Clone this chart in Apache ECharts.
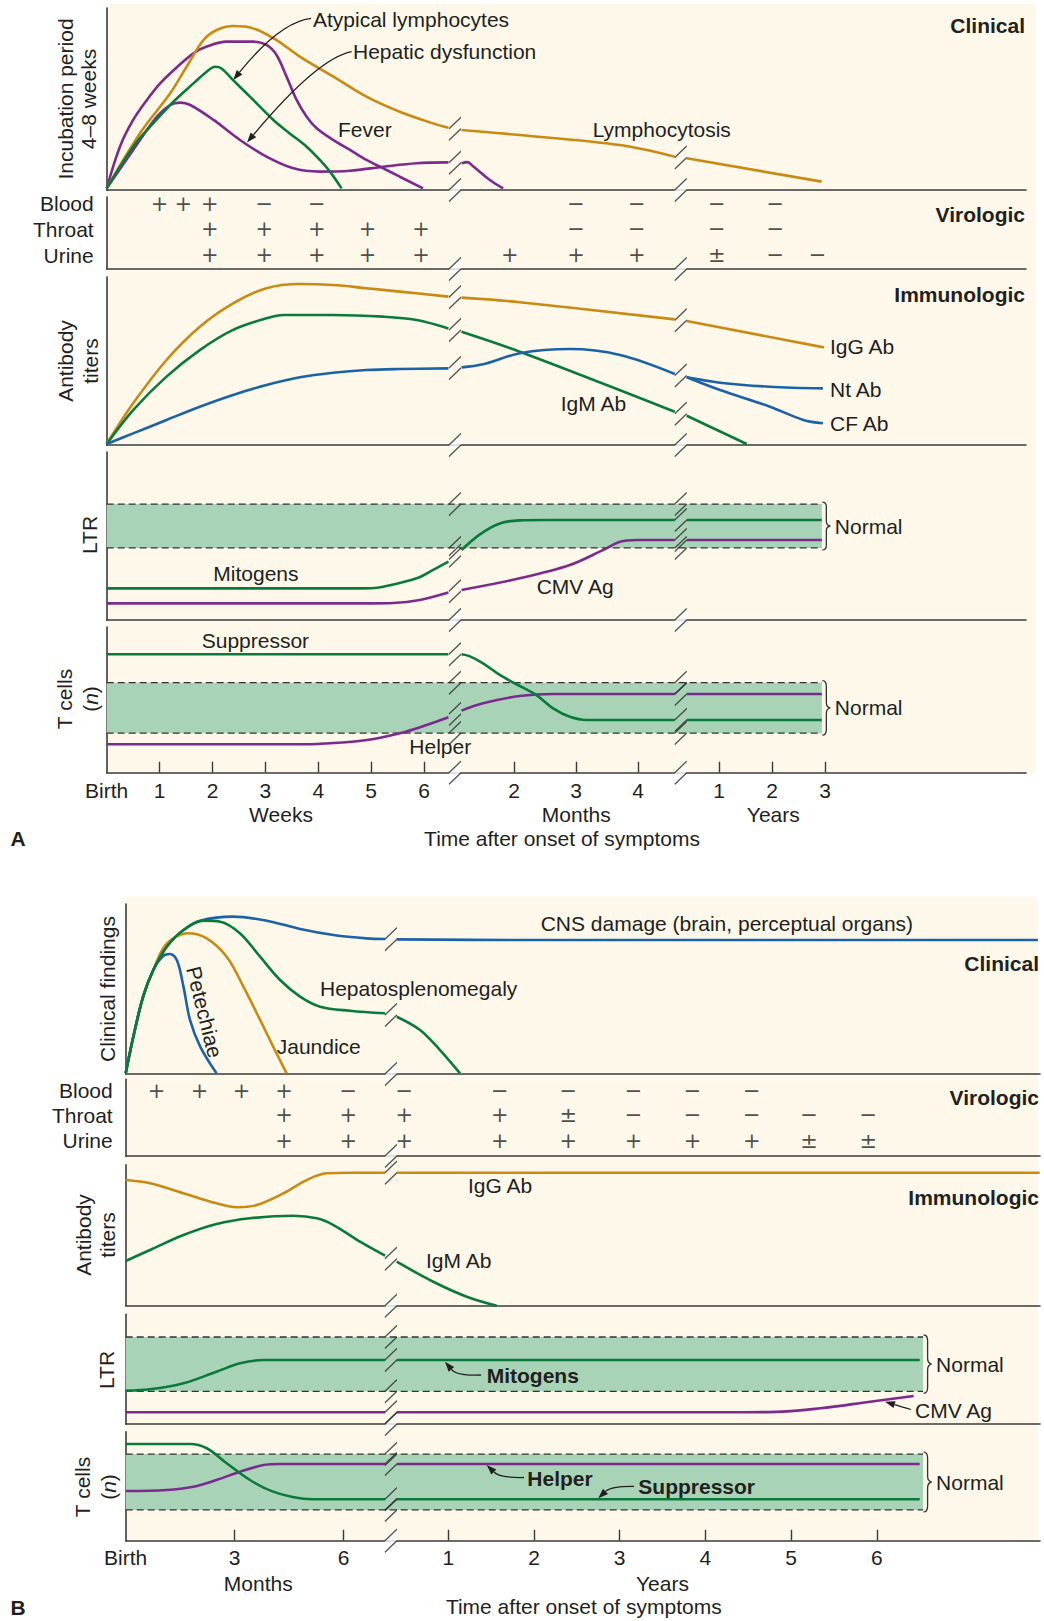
<!DOCTYPE html>
<html><head><meta charset="utf-8">
<script src="https://cdn.jsdelivr.net/npm/echarts@6/dist/echarts.min.js"></script>
<style>html,body{margin:0;padding:0;background:#fff}#c{width:1044px;height:1621px}</style>
</head><body><div id="c"></div>
<script>
// ================= DATA =================
// Curves: list of segments [segment, [[time, level], ...]]
// segments: 'w' = weeks, 'm' = months, 'y' = years ; level = 0..100 within panel
// ---- Panel A ----
const aLymphocytosis = [
  ['w', [[0,0.9],[0.63,31.2],[1.2,53.1],[1.51,67.7],[1.83,82.4],[2.08,87.9],[2.39,90.1],[2.77,88.8],[3.21,82.4],[3.65,73.3],[4.28,62.4],[4.91,51.3],[5.54,43.0],[6.17,36.6],[6.46,34.2]]],
  ['m', [[1.153,33.0],[2.094,30.2],[3.706,24.7],[4.593,18.3]]],
  ['y', [[0.391,17.4],[2.938,4.6]]]
];
const aFever = [
  ['w', [[0,0.9],[0.25,23.8],[0.5,38.5],[0.76,49.5],[1.01,58.6],[1.34,67.8],[1.64,75.1],[1.89,78.8],[2.27,81.5],[2.77,81.5],[3.02,79.7],[3.21,74.2],[3.4,62.3],[3.59,49.5],[3.78,40.3],[3.97,33.9],[4.28,27.5],[4.6,22.0],[4.91,16.5],[5.23,11.9],[5.54,7.3],[5.98,0.9]]]
];
const aAtypical = [
  ['w', [[0,0.9],[0.5,23.8],[0.82,34.8],[1.26,48.5],[1.64,58.6],[1.89,65.0],[2.05,67.7],[2.17,66.8],[2.39,60.4],[2.77,49.5],[3.15,38.5],[3.46,31.1],[3.78,23.8],[4.03,16.5],[4.22,10.1],[4.44,0.9]]]
];
const aHepatic = [
  ['w', [[0,0.9],[0.5,22.0],[0.95,40.3],[1.2,46.7],[1.39,48.0],[1.58,46.7],[2.02,38.5],[2.52,27.5],[3.02,18.3],[3.53,11.9],[4.03,10.1],[4.6,10.6],[5.23,12.8],[5.86,14.7],[6.46,15.2]]],
  ['m', [[1.153,14.7],[1.25,15.3],[1.34,13.0],[1.61,5.5],[1.824,0.9]]]
];
const aBlood  = [['w', [[1,'+'],[1.45,'+'],[1.95,'+'],[2.98,'−'],[3.97,'−']]], ['m', [[3.0,'−'],[3.98,'−']]], ['y', [[0.96,'−'],[2.06,'−']]]];
const aThroat = [['w', [[1.95,'+'],[2.98,'+'],[3.97,'+'],[4.93,'+'],[5.94,'+']]], ['m', [[3.0,'−'],[3.98,'−']]], ['y', [[0.96,'−'],[2.06,'−']]]];
const aUrine  = [['w', [[1.95,'+'],[2.98,'+'],[3.97,'+'],[4.93,'+'],[5.94,'+']]], ['m', [[1.93,'+'],[3.0,'+'],[3.98,'+']]], ['y', [[0.96,'±'],[2.06,'−'],[2.86,'−']]]];
const aIgG = [
  ['w', [[0,0.6],[0.5,24.8],[1.13,50.6],[1.76,70.4],[2.39,84.3],[3.02,93.3],[3.65,95.8],[4.28,95.2],[4.91,93.3],[5.54,91.3],[6.46,88.3]]],
  ['m', [[1.153,87.7],[2.094,85.0],[4.593,74.8]]],
  ['y', [[0.391,73.8],[2.98,58.1]]]
];
const aIgM = [
  ['w', [[0,0.6],[0.5,20.8],[1.13,40.7],[1.76,56.5],[2.39,68.5],[3.02,75.4],[3.34,77.4],[4.28,77.4],[5.23,76.4],[5.86,74.4],[6.46,69.4]]],
  ['m', [[1.153,67.4],[2.094,55.5],[4.593,19.8]]],
  ['y', [[0.391,17.4],[1.523,0.6]]]
];
const aNtAb = [
  ['w', [[0,0.6],[0.5,6.9],[1.13,14.9],[1.76,22.8],[2.39,29.8],[3.02,35.7],[3.65,40.3],[4.28,43.0],[4.91,44.6],[5.54,45.2],[6.46,45.6]]],
  ['m', [[1.153,46.2],[1.5,48.0],[2.094,54.6],[2.9,57.1],[3.71,53.6],[4.593,42.3]]],
  ['y', [[0.391,40.3],[1.02,37.1],[1.96,34.7],[2.96,33.7]]]
];
const aCfAb = [['y', [[0.391,40.3],[1.02,32.7],[1.96,22.8],[2.59,14.9],[2.96,12.9]]]];
const aMitogens = [
  ['w', [[0,18.8],[4.6,18.8],[5.0,18.9],[5.23,19.8],[5.86,24.8],[6.17,29.8],[6.46,34.7]]],
  ['m', [[1.153,41.7],[1.45,51.0],[1.77,57.5],[2.09,59.3],[2.5,59.5],[4.593,59.5]]],
  ['y', [[0.391,59.5],[2.94,59.5]]]
];
const aCmvAg = [
  ['w', [[0,9.9],[5.0,9.9],[5.42,10.1],[5.92,11.9],[6.46,16.3]]],
  ['m', [[1.153,17.9],[2.094,24.8],[2.9,32.7],[3.44,41.7],[3.71,46.6],[3.98,47.6],[4.593,47.6]]],
  ['y', [[0.391,47.6],[2.94,47.6]]]
];
const aSuppressor = [
  ['w', [[0,81.3],[6.46,81.3]]],
  ['m', [[1.153,81.3],[1.28,80.0],[1.5,75.1],[1.77,67.1],[2.01,61.4],[2.36,53.3],[2.63,44.2],[2.9,38.4],[3.17,36.2],[4.593,36.2]]],
  ['y', [[0.391,36.2],[2.94,36.2]]]
];
const aHelper = [
  ['w', [[0,19.5],[3.5,19.5],[3.97,19.7],[4.92,22.4],[5.54,27.0],[6.05,32.7],[6.46,38.0]]],
  ['m', [[1.153,42.6],[1.5,47.6],[2.09,52.6],[2.63,54.0],[4.593,54.0]]],
  ['y', [[0.391,54.0],[2.94,54.0]]]
];
const aBandSpan = [['w',0],['y',2.94]];
const aLtrNormal = [42.9, 69.0];
const aTNormal = [27.2, 61.8];
const aTicks = [['w',0,'Birth'],['w',1,'1'],['w',2,'2'],['w',3,'3'],['w',4,'4'],['w',5,'5'],['w',6,'6'],['m',2,'2'],['m',3,'3'],['m',4,'4'],['y',1,'1'],['y',2,'2'],['y',3,'3']];

// ---- Panel B ----
const bCns = [
  ['m', [[0,0.4],[0.21,21.9],[0.48,45.5],[0.76,61.2],[1.13,74.9],[1.59,84.7],[2.05,90.2],[2.96,92.6],[3.88,90.2],[4.8,85.3],[5.72,81.8],[6.63,79.8],[7.14,79.4]]],
  ['y', [[0.398,79.2],[1.83,78.8],[7.88,78.8]]]
];
const bHepato = [
  ['m', [[0,0.4],[0.21,21.9],[0.48,45.5],[0.76,61.2],[1.13,74.9],[1.59,84.7],[2.14,90.2],[2.6,89.6],[3.15,82.7],[3.7,69.0],[4.25,55.3],[4.8,45.5],[5.35,39.6],[6.17,37.2],[7.14,35.7]]],
  ['y', [[0.398,33.7],[0.67,25.9],[0.903,14.1],[1.137,0.4]]]
];
const bJaundice = [
  ['m', [[0,0.4],[0.21,21.9],[0.48,45.5],[0.76,61.2],[1.03,73.9],[1.31,79.8],[1.72,82.8],[2.23,79.8],[2.78,69.0],[3.24,51.4],[3.7,31.8],[4.06,16.1],[4.43,0.4]]]
];
const bPetechiae = [
  ['m', [[0,0.4],[0.21,21.9],[0.48,45.5],[0.76,61.2],[1.03,69.4],[1.22,70.6],[1.41,66.9],[1.59,51.4],[1.77,31.8],[2.05,16.1],[2.5,0.4]]]
];
const bBlood  = [['m', [[0.85,'+'],[2.03,'+'],[3.19,'+'],[4.36,'+'],[6.13,'−']]], ['y', [[0.487,'−'],[1.6,'−'],[2.4,'−'],[3.16,'−'],[3.85,'−'],[4.54,'−']]]];
const bThroat = [['m', [[4.36,'+'],[6.13,'+']]], ['y', [[0.487,'+'],[1.6,'+'],[2.4,'±'],[3.16,'−'],[3.85,'−'],[4.54,'−'],[5.21,'−'],[5.9,'−']]]];
const bUrine  = [['m', [[4.36,'+'],[6.13,'+']]], ['y', [[0.487,'+'],[1.6,'+'],[2.4,'+'],[3.16,'+'],[3.85,'+'],[4.54,'+'],[5.21,'±'],[5.9,'±']]]];
const bIgG = [
  ['m', [[0,89.1],[0.67,86.8],[1.59,79.7],[2.5,72.6],[3.06,69.8],[3.61,71.4],[4.34,79.7],[4.98,89.1],[5.53,93.9],[6.2,94.3],[7.14,94.3]]],
  ['y', [[0.398,94.3],[7.9,94.3]]]
];
const bIgM = [
  ['m', [[0,31.7],[0.67,39.5],[1.59,50.1],[2.5,57.9],[3.42,62.0],[4.61,63.8],[5.26,62.0],[5.72,57.2],[6.45,45.4],[7.14,35.5]]],
  ['y', [[0.398,31.2],[0.825,17.0],[1.215,6.4],[1.565,0]]]
];
const bMitogens = [
  ['m', [[0,30.4],[0.67,31.6],[1.59,37.1],[2.5,47.7],[3.15,55.3],[3.79,58.3],[4.5,58.3],[7.14,58.3]]],
  ['y', [[0.398,58.3],[6.5,58.3]]]
];
const bCmvAg = [
  ['m', [[0,10.7],[7.14,10.7]]],
  ['y', [[0.398,10.7],[4.2,10.7],[4.72,10.8],[5.34,14.3],[5.92,20.3],[6.43,25.5]]]
];
const bSuppressor = [
  ['m', [[0,88.7],[1.77,88.7],[2.23,84.8],[2.78,71.0],[3.42,55.7],[4.06,45.0],[4.8,38.9],[5.3,38.0],[7.14,38.0]]],
  ['y', [[0.398,38.0],[6.5,38.0]]]
];
const bHelper = [
  ['m', [[0,45.6],[1.13,46.5],[1.86,49.5],[2.5,55.7],[3.15,63.3],[3.79,69.4],[4.25,70.4],[7.14,70.4]]],
  ['y', [[0.398,70.4],[6.5,70.4]]]
];
const bBandSpan = [['m',0],['y',6.54]];
const bLtrNormal = [29.8, 79.3];
const bTNormal = [28.2, 79.5];
const bTicks = [['m',0,'Birth'],['m',3,'3'],['m',6,'6'],['y',1,'1'],['y',2,'2'],['y',3,'3'],['y',4,'4'],['y',5,'5'],['y',6,'6']];

const rowsA = [['Blood',90.3],['Throat',55.1],['Urine',19.4]];
const rowsB = [['Blood',85.1],['Throat',53.1],['Urine',19.6]];

// ================= STYLE / LAYOUT =================
const FONT = '"Liberation Sans", Arial, Helvetica, sans-serif';
const MARKFONT = '"DejaVu Sans", "Liberation Sans", sans-serif';
const INK = '#231f20', AX = '#3b3b3b', CREAM = '#fdf8ea', BAND = '#a9d3b6';
const GOLD = '#c98a14', PURPLE = '#7b2b8e', GREEN = '#0a7a3c', BLUE = '#1c62a6';

// compound time scales (axis units) for each chart
const SC = {
  A: {w: t => t, m: t => 7.70 + (t - 2) * 1.172, y: t => 11.575 + (t - 1) * 1.002},
  B: {m: t => t, y: t => 8.88 + (t - 1) * 2.359}
};
const GEO = {A: {left: 106.7, width: 919.3, unit: 52.9}, B: {left: 125.7, width: 914.3, unit: 36.33}};
const BREAKS = {
  A: [(SC.A.w(6.46) + SC.A.m(1.153)) / 2, (SC.A.m(4.593) + SC.A.y(0.391)) / 2],
  B: [(SC.B.m(7.14) + SC.B.y(0.398)) / 2]
};

const panels = [
  {ch:'A', top:8, h:182, curves:[[aFever,PURPLE],[aHepatic,PURPLE],[aLymphocytosis,GOLD],[aAtypical,GREEN]]},
  {ch:'A', top:197, h:72, rows:rowsA, marks:[aBlood,aThroat,aUrine]},
  {ch:'A', top:277, h:168, curves:[[aIgG,GOLD],[aIgM,GREEN],[aNtAb,BLUE],[aCfAb,BLUE]]},
  {ch:'A', top:452, h:168, band:[aBandSpan,aLtrNormal], curves:[[aCmvAg,PURPLE],[aMitogens,GREEN]]},
  {ch:'A', top:627, h:145.7, band:[aBandSpan,aTNormal], curves:[[aHelper,PURPLE],[aSuppressor,GREEN]], ticks:aTicks},
  {ch:'B', top:904, h:170, curves:[[bCns,BLUE],[bJaundice,GOLD],[bPetechiae,BLUE],[bHepato,GREEN]]},
  {ch:'B', top:1079.3, h:76.7, rows:rowsB, marks:[bBlood,bThroat,bUrine]},
  {ch:'B', top:1164.7, h:141, curves:[[bIgG,GOLD],[bIgM,GREEN]]},
  {ch:'B', top:1314.3, h:109.7, band:[bBandSpan,bLtrNormal], curves:[[bCmvAg,PURPLE],[bMitogens,GREEN]]},
  {ch:'B', top:1431.7, h:109, band:[bBandSpan,bTNormal], curves:[[bHelper,PURPLE],[bSuppressor,GREEN]], ticks:bTicks}
];

const SLASH = 'path://M0,23L12,11.5M0,11.5L12,0';
const GAP = 'path://M0,11.5L12,0L12,11.5L0,23Z';
const BRACE = 'M0,0C3,0 4,1.5 4,5L4,20C4,23 5,24.5 8,25C5,25.5 4,27 4,30L4,45C4,48.5 3,50 0,50';
const key = v => Number(v).toFixed(3);

const grids = [], xAxes = [], yAxes = [], series = [];
panels.forEach((p, gi) => {
  const sc = SC[p.ch], geo = GEO[p.ch];
  grids.push({left: geo.left, top: p.top, width: geo.width, height: p.h, show: false});
  const xa = {gridIndex: gi, type: 'value', min: 0, max: geo.width / geo.unit,
    axisLine: {show: true, onZero: false, lineStyle: {color: AX, width: 1.6}},
    axisTick: {show: false}, axisLabel: {show: false}, splitLine: {show: false}};
  if (p.ticks) {
    const lab = {};
    p.ticks.forEach(([s, t, l]) => lab[key(sc[s](t))] = l);
    xa.axisTick = {show: true, inside: true, length: 11, lineStyle: {color: AX, width: 1.4},
      customValues: p.ticks.filter(d => d[2] !== 'Birth').map(([s, t]) => sc[s](t))};
    xa.axisLabel = {show: true, customValues: p.ticks.map(([s, t]) => sc[s](t)),
      formatter: v => lab[key(v)] || '', margin: p.ch === 'A' ? 7 : 6.5,
      fontSize: 21, fontFamily: FONT, color: INK};
  }
  xAxes.push(xa);
  const ya = {gridIndex: gi, type: 'value', min: 0, max: 100,
    axisLine: {show: true, onZero: false, lineStyle: {color: AX, width: 1.6}},
    axisTick: {show: false}, axisLabel: {show: false}, splitLine: {show: false}};
  if (p.rows) {
    const lab = {};
    p.rows.forEach(([n, v]) => lab[key(v)] = n);
    ya.axisLabel = {show: true, customValues: p.rows.map(r => r[1]), formatter: v => lab[key(v)] || '',
      margin: 13, fontSize: 21, lineHeight: 22, fontFamily: FONT, color: INK};
  }
  yAxes.push(ya);

  const slashPts = [], gapPts = [];
  BREAKS[p.ch].forEach(bx => { slashPts.push([bx, 0]); gapPts.push([bx, 0]); });

  // normal band
  if (p.band) {
    const [span, [lo, hi]] = p.band;
    const x0 = sc[span[0][0]](span[0][1]), x1 = sc[span[1][0]](span[1][1]);
    series.push({type: 'custom', xAxisIndex: gi, yAxisIndex: gi, z: 1, silent: true, animation: false,
      data: [[x0, x1, lo, hi]], encode: {x: [0, 1], y: [2, 3]},
      renderItem: (params, api) => {
        const a = api.coord([api.value(0), api.value(3)]), b = api.coord([api.value(1), api.value(2)]);
        const dash = {stroke: '#333', lineWidth: 1.3, lineDash: [7, 4]};
        return {type: 'group', children: [
          {type: 'rect', shape: {x: a[0], y: a[1], width: b[0] - a[0], height: b[1] - a[1]}, style: {fill: BAND}},
          {type: 'line', shape: {x1: a[0], y1: a[1], x2: b[0], y2: a[1]}, style: dash},
          {type: 'line', shape: {x1: a[0], y1: b[1], x2: b[0], y2: b[1]}, style: dash},
          {type: 'path', shape: {pathData: BRACE, x: b[0] + 0.5, y: a[1] - 2, width: 8, height: b[1] - a[1] + 4, layout: 'cover'},
            style: {fill: 'none', stroke: '#333', lineWidth: 1.3}},
          {type: 'text', x: b[0] + 13, y: (a[1] + b[1]) / 2, style: {text: 'Normal', fontSize: 21, fontFamily: FONT, fill: INK, align: 'left', verticalAlign: 'middle'}}
        ]};
      }});
    BREAKS[p.ch].forEach(bx => { if (bx > x0 && bx < x1) { slashPts.push([bx, lo]); slashPts.push([bx, hi]); } });
  }

  // curves
  (p.curves || []).forEach(([curve, color]) => {
    const segs = curve.map(([s, pts]) => pts.map(([t, v]) => [sc[s](t), v]));
    segs.forEach(seg => series.push({type: 'line', xAxisIndex: gi, yAxisIndex: gi, data: seg, smooth: 0.35,
      symbol: 'none', showSymbol: false, silent: true, animation: false, z: 3,
      lineStyle: {color, width: 2.6, cap: 'butt'}}));
    for (let k = 1; k < segs.length; k++) {
      const a = segs[k - 1][segs[k - 1].length - 1], b = segs[k][0];
      slashPts.push([(a[0] + b[0]) / 2, (a[1] + b[1]) / 2]);
    }
  });

  // virologic +/- marks
  (p.marks || []).forEach((row, ri) => {
    const yv = p.rows[ri][1];
    const data = [];
    row.forEach(([s, pts]) => pts.forEach(([t, ch]) => data.push({value: [sc[s](t), yv], name: ch})));
    series.push({type: 'scatter', xAxisIndex: gi, yAxisIndex: gi, data, symbolSize: 1, silent: true, animation: false,
      itemStyle: {color: 'transparent'}, z: 4,
      label: {show: true, position: 'inside', formatter: '{b}', fontSize: 21, lineHeight: 20, fontFamily: MARKFONT, color: INK}});
  });

  series.push({type: 'scatter', xAxisIndex: gi, yAxisIndex: gi, data: gapPts, symbol: GAP, symbolSize: [12, 23],
    itemStyle: {color: '#ffffff'}, z: 5, silent: true, animation: false, clip: false});
  series.push({type: 'scatter', xAxisIndex: gi, yAxisIndex: gi, data: slashPts, symbol: SLASH, symbolSize: [12, 23],
    itemStyle: {color: 'transparent', borderColor: '#2b2b2b', borderWidth: 1.2}, z: 6, silent: true, animation: false, clip: false});
});

// ================= ANNOTATIONS =================
function T(x, y, text, o = {}) {
  const st = {text, fontSize: o.size || 21, fontFamily: FONT, fontWeight: o.bold ? 'bold' : 'normal', fill: INK,
    align: o.align || 'left', verticalAlign: 'middle'};
  if (o.lh) st.lineHeight = o.lh;
  if (o.rich) st.rich = o.rich;
  return {type: 'text', x, y, rotation: o.rot || 0, z: 10, silent: true, style: st};
}
function arrow(x1, y1, cx, cy, x2, y2) {
  const ang = Math.atan2(y2 - cy, x2 - cx), L = 10, W = 3.6;
  const bx = x2 - L * Math.cos(ang), by = y2 - L * Math.sin(ang);
  const nx = -Math.sin(ang), ny = Math.cos(ang);
  return [
    {type: 'bezierCurve', z: 10, silent: true, shape: {x1, y1, x2: bx, y2: by, cpx1: cx, cpy1: cy},
      style: {stroke: INK, lineWidth: 1.3, fill: 'none'}},
    {type: 'polygon', z: 10, silent: true, shape: {points: [[x2, y2], [bx + nx * W, by + ny * W], [bx - nx * W, by - ny * W]]},
      style: {fill: INK}}
  ];
}
const V = Math.PI / 2;
const italicN = {i: {fontStyle: 'italic', fontSize: 21, fontFamily: FONT, fill: INK, lineHeight: 26}};
const graphics = [
  {type: 'rect', z: -10, silent: true, shape: {x: 106.7, y: 4, width: 929.3, height: 768.7}, style: {fill: CREAM}},
  {type: 'rect', z: -10, silent: true, shape: {x: 125.7, y: 896.7, width: 912.3, height: 644}, style: {fill: CREAM}},
  // ---- A ----
  T(313, 19, 'Atypical lymphocytes'),
  T(353, 51.7, 'Hepatic dysfunction'),
  T(338, 129, 'Fever'),
  T(592.7, 129, 'Lymphocytosis'),
  T(1025, 25, 'Clinical', {bold: true, align: 'right'}),
  T(1025, 214, 'Virologic', {bold: true, align: 'right'}),
  T(1025, 294, 'Immunologic', {bold: true, align: 'right'}),
  T(830, 346.7, 'IgG Ab'),
  T(830, 389, 'Nt Ab'),
  T(830, 423.3, 'CF Ab'),
  T(560.7, 403.3, 'IgM Ab'),
  T(213.3, 573.3, 'Mitogens'),
  T(536.7, 586.7, 'CMV Ag'),
  T(201.7, 640.7, 'Suppressor'),
  T(409.3, 746.7, 'Helper'),
  T(281, 814, 'Weeks', {align: 'center'}),
  T(576.3, 814, 'Months', {align: 'center'}),
  T(773.3, 814, 'Years', {align: 'center'}),
  T(562, 838, 'Time after onset of symptoms', {align: 'center'}),
  T(18, 838, 'A', {bold: true, align: 'center'}),
  T(76.5, 99, 'Incubation period\n4–8 weeks', {align: 'center', rot: V, lh: 23}),
  T(77.5, 361, 'Antibody\ntiters', {align: 'center', rot: V, lh: 25}),
  T(89, 535, 'LTR', {align: 'center', rot: V}),
  T(77.5, 699, 'T cells\n({i|n})', {align: 'center', rot: V, lh: 26, rich: italicN}),
  ...arrow(311, 18.3, 280, 22, 233.3, 80),
  ...arrow(351.7, 51.7, 318, 58, 247, 142.5),
  // ---- B ----
  T(540.7, 923.3, 'CNS damage (brain, perceptual organs)'),
  T(1039, 963.3, 'Clinical', {bold: true, align: 'right'}),
  T(320, 988.3, 'Hepatosplenomegaly'),
  T(276.7, 1046.7, 'Jaundice'),
  T(204.5, 1012, 'Petechiae', {align: 'center', rot: -76 * Math.PI / 180}),
  T(1039, 1097.3, 'Virologic', {bold: true, align: 'right'}),
  T(468, 1185, 'IgG Ab'),
  T(1039, 1197.3, 'Immunologic', {bold: true, align: 'right'}),
  T(426, 1260.7, 'IgM Ab'),
  T(486.7, 1375, 'Mitogens', {bold: true}),
  T(915, 1410, 'CMV Ag'),
  T(527.3, 1478.3, 'Helper', {bold: true}),
  T(638.3, 1486.7, 'Suppressor', {bold: true}),
  T(258.3, 1583.3, 'Months', {align: 'center'}),
  T(662.5, 1583.3, 'Years', {align: 'center'}),
  T(583.8, 1606.7, 'Time after onset of symptoms', {align: 'center'}),
  T(18, 1607, 'B', {bold: true, align: 'center'}),
  T(107.3, 989, 'Clinical findings', {align: 'center', rot: V}),
  T(95.3, 1235, 'Antibody\ntiters', {align: 'center', rot: V, lh: 24}),
  T(106.7, 1370, 'LTR', {align: 'center', rot: V}),
  T(95.8, 1487, 'T cells\n({i|n})', {align: 'center', rot: V, lh: 25, rich: italicN}),
  ...arrow(481, 1375, 457, 1376, 445, 1361.7),
  ...arrow(911, 1409.5, 899, 1406, 885, 1401.7),
  ...arrow(524, 1477.5, 500, 1478, 486.7, 1465),
  ...arrow(634, 1486.3, 611, 1486, 598.3, 1498.3)
];

const chart = echarts.init(document.getElementById('c'), null, {renderer: 'svg', width: 1044, height: 1621});
chart.setOption({
  animation: false,
  backgroundColor: '#ffffff',
  grid: grids, xAxis: xAxes, yAxis: yAxes, series,
  graphic: {elements: graphics}
});
</script></body></html>
